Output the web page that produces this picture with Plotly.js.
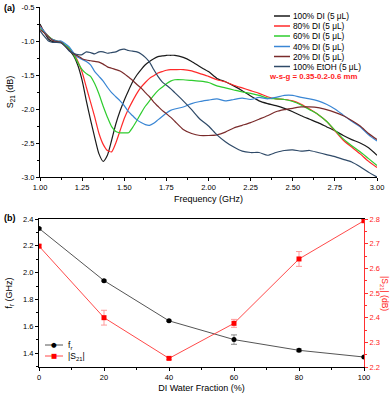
<!DOCTYPE html>
<html><head><meta charset="utf-8">
<script src="https://cdn.plot.ly/plotly-3.0.1.min.js"></script>
<style>html,body{margin:0;padding:0;background:#fff}#chart{width:391px;height:393px}</style>
</head><body><div id="chart"></div>
<script>
// ---------- panel (a) data ----------
const freq = [1.000,1.025,1.050,1.075,1.100,1.125,1.150,1.175,1.200,1.225,1.250,1.275,1.300,1.325,1.350,1.375,1.400,1.425,1.450,1.475,1.500,1.525,1.550,1.575,1.600,1.625,1.650,1.675,1.700,1.725,1.750,1.775,1.800,
  1.85,1.90,1.95,2.00,2.05,2.10,2.15,2.20,2.25,2.30,2.35,2.40,2.45,2.50,2.55,2.60,2.65,2.70,2.75,2.80,2.85,2.90,2.95,3.00];
const s21_di100 = [-0.75,-0.87,-0.97,-1.01,-1.02,-1.02,-1.07,-1.14,-1.22,-1.36,-1.58,-1.88,-2.16,-2.42,-2.66,-2.77,-2.68,-2.46,-2.22,-2.03,-1.87,-1.73,-1.60,-1.50,-1.42,-1.35,-1.30,-1.26,-1.23,-1.22,-1.21,-1.21,-1.21,
  -1.24,-1.30,-1.38,-1.45,-1.55,-1.60,-1.66,-1.73,-1.81,-1.88,-1.92,-1.95,-1.99,-2.04,-2.10,-2.15,-2.20,-2.26,-2.32,-2.39,-2.45,-2.50,-2.57,-2.68];
const s21_di80 = [-0.78,-0.86,-0.93,-0.98,-1.00,-1.02,-1.07,-1.12,-1.18,-1.30,-1.46,-1.68,-1.90,-2.12,-2.36,-2.52,-2.61,-2.63,-2.50,-2.32,-2.14,-2.00,-1.88,-1.77,-1.68,-1.61,-1.55,-1.51,-1.47,-1.45,-1.43,-1.42,-1.42,
  -1.42,-1.44,-1.48,-1.52,-1.57,-1.60,-1.65,-1.69,-1.73,-1.77,-1.82,-1.85,-1.86,-1.88,-1.93,-2.00,-2.08,-2.18,-2.32,-2.46,-2.56,-2.66,-2.77,-2.86];
const s21_di60 = [-0.80,-0.87,-0.93,-0.98,-1.00,-1.02,-1.06,-1.11,-1.20,-1.32,-1.42,-1.48,-1.52,-1.63,-1.78,-1.96,-2.12,-2.26,-2.33,-2.35,-2.35,-2.35,-2.27,-2.17,-2.06,-1.96,-1.88,-1.80,-1.73,-1.68,-1.63,-1.59,-1.57,
  -1.57,-1.58,-1.59,-1.61,-1.66,-1.69,-1.72,-1.75,-1.77,-1.80,-1.84,-1.85,-1.86,-1.89,-1.94,-2.01,-2.08,-2.18,-2.31,-2.44,-2.54,-2.63,-2.73,-2.83];
const s21_di40 = [-0.79,-0.86,-0.94,-0.98,-1.00,-1.00,-1.04,-1.09,-1.18,-1.24,-1.27,-1.30,-1.35,-1.45,-1.52,-1.59,-1.68,-1.76,-1.82,-1.88,-1.95,-2.04,-2.10,-2.16,-2.20,-2.23,-2.24,-2.21,-2.16,-2.11,-2.06,-2.02,-2.00,
  -1.97,-1.92,-1.89,-1.87,-1.85,-1.88,-1.86,-1.84,-1.86,-1.83,-1.85,-1.83,-1.80,-1.80,-1.83,-1.85,-1.88,-1.93,-2.00,-2.09,-2.18,-2.26,-2.38,-2.47];
const s21_di20 = [-0.83,-0.88,-0.94,-0.99,-1.01,-1.02,-1.08,-1.14,-1.19,-1.22,-1.26,-1.28,-1.29,-1.30,-1.31,-1.34,-1.38,-1.40,-1.42,-1.44,-1.48,-1.53,-1.58,-1.64,-1.69,-1.76,-1.82,-1.90,-1.96,-2.02,-2.07,-2.12,-2.18,
  -2.30,-2.36,-2.39,-2.39,-2.38,-2.34,-2.28,-2.24,-2.20,-2.15,-2.10,-2.04,-2.01,-1.99,-1.97,-1.97,-1.98,-2.01,-2.05,-2.10,-2.17,-2.25,-2.36,-2.45];
const s21_etoh100 = [-0.85,-0.93,-1.00,-1.02,-1.02,-1.03,-1.08,-1.15,-1.18,-1.20,-1.20,-1.16,-1.17,-1.19,-1.16,-1.16,-1.18,-1.17,-1.16,-1.13,-1.12,-1.14,-1.15,-1.16,-1.19,-1.24,-1.31,-1.42,-1.52,-1.60,-1.65,-1.70,-1.76,
  -1.88,-2.01,-2.15,-2.25,-2.38,-2.48,-2.56,-2.62,-2.64,-2.64,-2.68,-2.64,-2.61,-2.60,-2.62,-2.61,-2.64,-2.67,-2.70,-2.74,-2.78,-2.85,-2.93,-3.00];
const seriesNames = ['100% DI (5 μL)','80% DI (5 μL)','60% DI (5 μL)','40% DI (5 μL)','20% DI (5 μL)','100% EtOH (5 μL)'];
const seriesColors = ['#1a1a1a','#ff2a2a','#2ecc2e','#3a86d4','#7a2b2b','#2f4a68'];
const freqTicks = [1.00,1.25,1.50,1.75,2.00,2.25,2.50,2.75,3.00];
const s21Ticks = [-0.5,-1.0,-1.5,-2.0,-2.5,-3.0];

// ---------- panel (b) data ----------
const waterFraction = [0,20,40,60,80,100];
const fr = [2.33,1.94,1.64,1.50,1.42,1.37];
const frErr = [0.005,0.005,0.005,0.035,0.01,0.005];
const s21Mag = [2.69,2.40,2.235,2.377,2.638,2.793];
const s21Err = [0.005,0.03,0.005,0.016,0.03,0.005];
const fracTicks = [0,20,40,60,80,100];
const frTicks = [1.4,1.6,1.8,2.0,2.2,2.4];
const magTicks = [2.2,2.3,2.4,2.5,2.6,2.7,2.8];

const FONT = 'Liberation Sans, Arial, sans-serif';
const W = 391, H = 393;
const px = v => v / W;
const py = v => 1 - v / H;

const s21Series = [s21_di100, s21_di80, s21_di60, s21_di40, s21_di20, s21_etoh100];
const traces = s21Series.map((ys, i) => ({
  x: freq, y: ys, type: 'scatter', mode: 'lines', name: seriesNames[i],
  line: {color: seriesColors[i], width: 1.2, shape: 'spline', smoothing: 0.6},
  xaxis: 'x', yaxis: 'y', showlegend: false
}));
traces.push({
  x: waterFraction, y: fr, type: 'scatter', mode: 'lines+markers', name: 'f_r',
  line: {color: '#555555', width: 1}, marker: {color: '#000', size: 5, symbol: 'circle'},
  error_y: {type: 'data', array: frErr, visible: true, color: '#888', thickness: 1, width: 3},
  xaxis: 'x2', yaxis: 'y3', showlegend: false
});
traces.push({
  x: waterFraction, y: s21Mag, type: 'scatter', mode: 'lines+markers', name: '|S21|',
  line: {color: '#ff4a4a', width: 1}, marker: {color: '#ff0000', size: 5, symbol: 'square'},
  error_y: {type: 'data', array: s21Err, visible: true, color: '#ff9a9a', thickness: 1, width: 3},
  xaxis: 'x2', yaxis: 'y4', showlegend: false
});

const tickFont = {family: FONT, size: 7.5, color: '#000'};
const axBase = {showline: true, linecolor: '#000', linewidth: 1, ticks: 'outside', ticklen: 3, tickwidth: 1,
  tickcolor: '#000', showgrid: false, zeroline: false, tickfont: tickFont};

const shapes = [], annotations = [];
// legend (a)
const legY = [16, 26, 36, 46.5, 56.5, 66.5];
seriesNames.forEach((n, i) => {
  shapes.push({type: 'line', xref: 'paper', yref: 'paper', x0: px(274), x1: px(290), y0: py(legY[i]), y1: py(legY[i]),
    line: {color: seriesColors[i], width: 1.5}});
  annotations.push({xref: 'paper', yref: 'paper', x: px(291), y: py(legY[i]), xanchor: 'left', yanchor: 'middle',
    text: n, showarrow: false, font: {family: FONT, size: 8.3, color: '#000'}});
});
annotations.push({xref: 'paper', yref: 'paper', x: px(313), y: py(76.5), xanchor: 'center', yanchor: 'middle',
  text: '<b>w-s-g = 0.35-0.2-0.6 mm</b>', showarrow: false, font: {family: FONT, size: 7.8, color: '#ff1a1a'}});
// legend (b)
const legBY = [345, 356];
const legBCol = ['#555555', '#ff4a4a'];
const legBMk = ['●', '■'];
const legBMkCol = ['#000', '#ff0000'];
const legBTxt = ['f<sub>r</sub>', '|S<sub>21</sub>|'];
legBY.forEach((yv, i) => {
  shapes.push({type: 'line', xref: 'paper', yref: 'paper', x0: px(45), x1: px(63), y0: py(yv), y1: py(yv),
    line: {color: legBCol[i], width: 1}});
  annotations.push({xref: 'paper', yref: 'paper', x: px(54), y: py(yv), xanchor: 'center', yanchor: 'middle',
    text: legBMk[i], showarrow: false, font: {family: 'DejaVu Sans', size: 6.5, color: legBMkCol[i]}});
  annotations.push({xref: 'paper', yref: 'paper', x: px(66), y: py(yv), xanchor: 'left', yanchor: 'middle',
    text: legBTxt[i], showarrow: false, font: {family: FONT, size: 8.5, color: '#000'}});
});
annotations.push({xref: 'paper', yref: 'paper', x: px(2), y: py(8), xanchor: 'left', yanchor: 'middle',
  text: '<b>(a)</b>', showarrow: false, font: {family: FONT, size: 9, color: '#000'}});
annotations.push({xref: 'paper', yref: 'paper', x: px(2), y: py(218), xanchor: 'left', yanchor: 'middle',
  text: '<b>(b)</b>', showarrow: false, font: {family: FONT, size: 9, color: '#000'}});
annotations.push({xref: 'paper', yref: 'paper', x: px(385), y: py(293), xanchor: 'center', yanchor: 'middle',
  text: '|S<sub>21</sub>| (dB)', textangle: 90, showarrow: false, font: {family: FONT, size: 8.5, color: '#ff1a1a'}});

const layout = {
  width: W, height: H, margin: {l: 0, r: 0, t: 0, b: 0}, paper_bgcolor: '#fff', plot_bgcolor: '#fff',
  font: {family: FONT, size: 8, color: '#000'}, showlegend: false,
  xaxis: Object.assign({}, axBase, {domain: [px(40), px(377)], range: [1, 3], anchor: 'y',
    tickvals: freqTicks, ticktext: freqTicks.map(v => v.toFixed(2)),
    minor: {ticks: 'outside', ticklen: 2, dtick: 0.125, tick0: 1, tickcolor: '#000', showgrid: false},
    title: {text: 'Frequency (GHz)', font: {family: FONT, size: 9}, standoff: 4}}),
  yaxis: Object.assign({}, axBase, {domain: [py(177), py(7)], range: [-3, -0.5], anchor: 'x',
    tickvals: s21Ticks, ticktext: s21Ticks.map(v => '-' + Math.abs(v).toFixed(1)),
    minor: {ticks: 'outside', ticklen: 2, dtick: 0.25, tick0: -0.5, tickcolor: '#000', showgrid: false},
    title: {text: 'S<sub>21</sub> (dB)', font: {family: FONT, size: 9}, standoff: 6}}),
  xaxis2: Object.assign({}, axBase, {domain: [px(39), px(364)], range: [0, 100], anchor: 'y3', mirror: true,
    tickvals: fracTicks,
    minor: {ticks: 'outside', ticklen: 2, dtick: 10, tick0: 0, tickcolor: '#000', showgrid: false},
    title: {text: 'DI Water Fraction (%)', font: {family: FONT, size: 9}, standoff: 6}}),
  yaxis3: Object.assign({}, axBase, {domain: [py(367), py(219)], range: [1.2955, 2.4], anchor: 'x2',
    tickvals: frTicks, ticktext: frTicks.map(v => v.toFixed(1)),
    minor: {ticks: 'outside', ticklen: 2, dtick: 0.1, tick0: 1.4, tickcolor: '#000', showgrid: false},
    title: {text: 'f<sub>r</sub> (GHz)', font: {family: FONT, size: 9}, standoff: 8}}),
  yaxis4: Object.assign({}, axBase, {overlaying: 'y3', side: 'right', anchor: 'x2', range: [2.2, 2.8],
    linecolor: '#ff3030', tickcolor: '#ff3030', tickfont: {family: FONT, size: 7.5, color: '#ff1a1a'},
    tickvals: magTicks, ticktext: magTicks.map(v => v.toFixed(1)),
    minor: {ticks: 'outside', ticklen: 2, dtick: 0.05, tick0: 2.2, tickcolor: '#ff3030', showgrid: false}}),
  shapes: shapes, annotations: annotations
};
Plotly.newPlot('chart', traces, layout, {displayModeBar: false, staticPlot: true});
</script></body></html>
